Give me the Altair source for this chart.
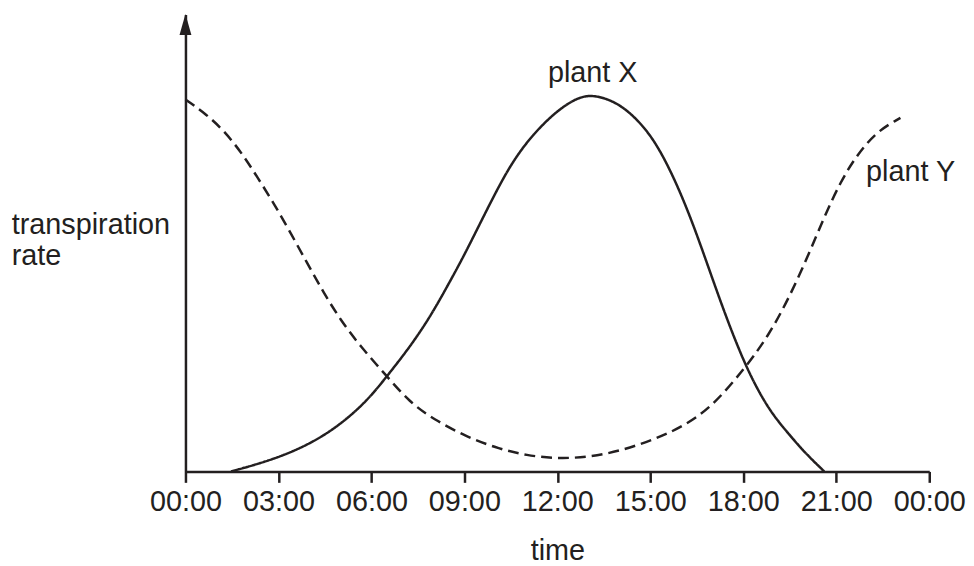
import altair as alt
import pandas as pd

INK = "#231f20"
FONT = "Liberation Sans"

# plant X (solid curve): hour of day, transpiration rate (arbitrary units)
hours_x = [1.47, 2.97, 4.46, 5.74, 6.51, 7.26, 7.90, 8.44, 8.97, 9.50, 10.04, 10.57,
           11.21, 11.96, 12.60, 13.14, 13.99, 14.74, 15.27, 15.81, 16.34, 16.87,
           17.41, 18.05, 18.58, 19.00, 19.44, 19.97, 20.61]
rate_x = [0.0, 2.8, 7.4, 14.4, 20.9, 27.4, 33.9, 40.4, 47.0, 54.2, 61.5, 68.0,
          73.8, 78.8, 81.7, 82.6, 80.7, 76.0, 70.9, 63.6, 54.9, 44.8,
          34.4, 23.4, 16.4, 12.0, 8.4, 4.2, 0.0]

# plant Y (dashed curve)
hours_y = [0.0, 0.62, 1.26, 1.85, 2.33, 2.86, 3.40, 3.93, 4.46, 5.00, 5.64, 6.49,
           7.24, 7.99, 9.08, 10.14, 11.00, 11.96, 13.03, 14.10, 15.16, 16.02,
           16.98, 18.10, 18.80, 19.44, 20.08, 20.61, 21.15, 21.68, 22.32, 23.07]
rate_y = [81.4, 78.5, 74.5, 69.4, 64.3, 58.6, 52.1, 45.6, 39.1, 33.2, 27.4, 20.9,
          15.1, 11.5, 7.5, 4.9, 3.5, 2.8, 3.1, 4.6, 7.1, 9.7,
          14.0, 23.0, 29.6, 37.5, 47.0, 55.7, 63.6, 69.4, 74.5, 77.4]

tick_hours = [0, 3, 6, 9, 12, 15, 18, 21, 24]
tick_labels = ["00:00", "03:00", "06:00", "09:00", "12:00", "15:00", "18:00", "21:00", "00:00"]

series_names = ["plant X", "plant Y"]
label_hour = [13.14, 21.96]
label_rate = [85.2, 63.6]
label_align = ["center", "left"]

df = pd.concat([
    pd.DataFrame({"hour": hours_x, "rate": rate_x, "plant": series_names[0]}),
    pd.DataFrame({"hour": hours_y, "rate": rate_y, "plant": series_names[1]}),
])

label_expr = "[" + ",".join("'%s'" % t for t in tick_labels) + "][round(datum.value / 3)]"

x_enc = alt.X(
    "hour:Q",
    scale=alt.Scale(domain=[0, 24], nice=False, zero=False),
    axis=alt.Axis(
        values=tick_hours, labelExpr=label_expr, title="time",
        grid=False, tickSize=11, labelPadding=5, labelOverlap=False,
        labelFlush=False, titleX=374.5, titleY=89, titleBaseline="alphabetic",
    ),
)
y_enc = alt.Y(
    "rate:Q",
    scale=alt.Scale(domain=[0, 100], nice=False),
    axis=alt.Axis(
        title=["transpiration", "rate"], ticks=False, labels=False, grid=False,
        titleAngle=0, titleAlign="left", titleBaseline="alphabetic",
        titleX=-175.5, titleY=220, titleLineHeight=32,
    ),
)

lines = alt.Chart(df).mark_line(
    strokeWidth=2.5, color=INK, interpolate="basis", strokeCap="butt"
).encode(
    x=x_enc,
    y=y_enc,
    strokeDash=alt.StrokeDash(
        "plant:N",
        scale=alt.Scale(domain=series_names, range=[[1, 0], [11, 6]]),
        legend=None,
    ),
    detail="plant:N",
)

labels_df = pd.DataFrame({
    "hour": label_hour, "rate": label_rate, "plant": series_names, "align": label_align
})
label_x = alt.Chart(labels_df[labels_df["align"] == "center"]).mark_text(
    align="center", baseline="alphabetic", fontSize=29, font=FONT, color=INK
).encode(x="hour:Q", y="rate:Q", text="plant:N")
label_y = alt.Chart(labels_df[labels_df["align"] == "left"]).mark_text(
    align="left", baseline="alphabetic", fontSize=29, font=FONT, color=INK
).encode(x="hour:Q", y="rate:Q", text="plant:N")

arrow = alt.Chart(pd.DataFrame({"hour": [0], "rate": [100]})).mark_point(
    shape="M0,-1L0.57,1L-0.57,1Z", size=441, filled=True, color=INK,
    opacity=1, yOffset=10, strokeWidth=0,
).encode(x="hour:Q", y="rate:Q")

chart = alt.layer(lines, label_x, label_y, arrow).properties(
    width=749,
    height=460,
    autosize=alt.AutoSizeParams(type="none"),
    padding={"left": 178.7, "top": 4.7, "right": 37, "bottom": 97},
).configure_view(stroke=None).configure_axis(
    domainColor=INK, domainWidth=2.5, tickColor=INK, tickWidth=2.5,
    labelFont=FONT, labelFontSize=29, labelColor=INK,
    titleFont=FONT, titleFontSize=29, titleFontWeight="normal", titleColor=INK,
)

chart.save("out.html", embed_options={"renderer": "svg", "actions": False})
